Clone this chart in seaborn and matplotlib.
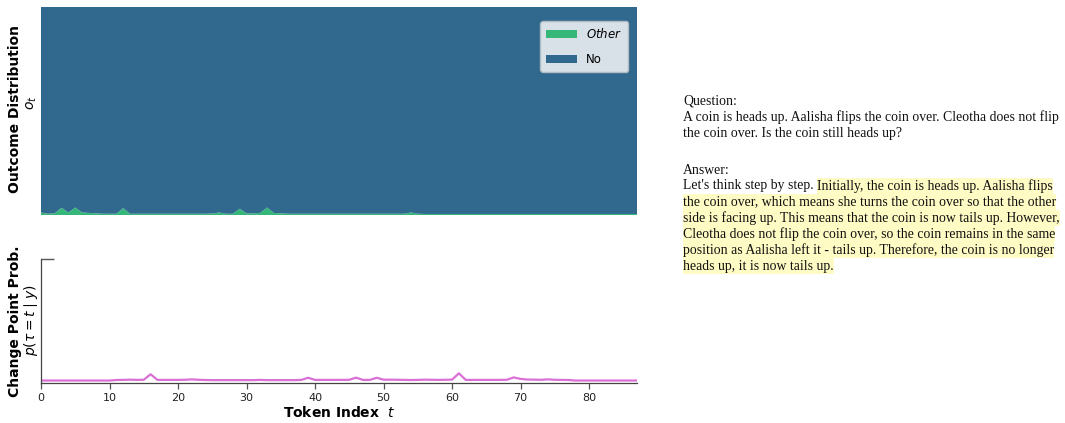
import numpy as np
import pandas as pd
import matplotlib
matplotlib.use("Agg")
import matplotlib.pyplot as plt
from matplotlib.patches import Rectangle, Patch
import seaborn as sns

sns.set_theme(style="ticks")
plt.rcParams['font.family'] = ['DejaVu Sans']

# token index t = 0..87
tokens = list(range(88))

# probability of the "Other" outcome at each token (rest is "No")
other_prob = [0.012, 0.006, 0.008, 0.035, 0.012, 0.036, 0.012, 0.010, 0.008, 0.006,
              0.006, 0.006, 0.033, 0.006, 0.006, 0.006, 0.006, 0.006, 0.006, 0.006,
              0.006, 0.006, 0.006, 0.006, 0.006, 0.007, 0.012, 0.006, 0.006, 0.030,
              0.008, 0.008, 0.010, 0.036, 0.010, 0.008, 0.006, 0.006, 0.006, 0.006,
              0.006, 0.006, 0.006, 0.006, 0.006, 0.006, 0.006, 0.006, 0.006, 0.006,
              0.006, 0.006, 0.006, 0.006, 0.012, 0.006, 0.005, 0.005, 0.005, 0.005,
              0.005, 0.005, 0.005, 0.005, 0.005, 0.005, 0.005, 0.005, 0.005, 0.005,
              0.005, 0.005, 0.005, 0.005, 0.005, 0.005, 0.005, 0.005, 0.005, 0.005,
              0.005, 0.005, 0.005, 0.005, 0.005, 0.005, 0.005, 0.005]
no_prob = [1 - p for p in other_prob]

# change point probability p(tau = t | y)
cp_prob = [0.020, 0.020, 0.020, 0.020, 0.020, 0.020, 0.020, 0.020, 0.020, 0.020,
           0.020, 0.024, 0.025, 0.027, 0.025, 0.026, 0.070, 0.025, 0.025, 0.025,
           0.025, 0.026, 0.029, 0.026, 0.024, 0.023, 0.023, 0.023, 0.023, 0.023,
           0.023, 0.023, 0.025, 0.023, 0.023, 0.023, 0.023, 0.023, 0.025, 0.042,
           0.025, 0.025, 0.025, 0.025, 0.025, 0.026, 0.043, 0.025, 0.025, 0.042,
           0.027, 0.027, 0.026, 0.025, 0.024, 0.025, 0.027, 0.026, 0.025, 0.026,
           0.027, 0.078, 0.025, 0.025, 0.025, 0.025, 0.025, 0.025, 0.026, 0.045,
           0.033, 0.028, 0.027, 0.026, 0.029, 0.026, 0.025, 0.024, 0.020, 0.020,
           0.020, 0.020, 0.020, 0.020, 0.020, 0.020, 0.020, 0.020]

outcome_labels = ["$\\it{Other}$", "No"]
outcome_colors = ["#35b779", "#31688e"]

question_lines = ["Question:",
                  "A coin is heads up. Aalisha flips the coin over. Cleotha does not flip",
                  "the coin over. Is the coin still heads up?"]
answer_plain = "Let's think step by step. "
answer_lines = ["Initially, the coin is heads up. Aalisha flips",
                "the coin over, which means she turns the coin over so that the other",
                "side is facing up. This means that the coin is now tails up. However,",
                "Cleotha does not flip the coin over, so the coin remains in the same",
                "position as Aalisha left it - tails up. Therefore, the coin is no longer",
                "heads up, it is now tails up."]

W, H = 1065, 423
fig = plt.figure(figsize=(W / 100, H / 100), dpi=100)
ax1 = fig.add_axes([41 / W, 1 - 215 / H, 596 / W, 208 / H])
ax2 = fig.add_axes([41 / W, 1 - 383 / H, 596 / W, 124 / H])

# top: stacked outcome distribution
ax1.stackplot(tokens, other_prob, no_prob, colors=outcome_colors,
              labels=outcome_labels, linewidth=0, edgecolor="none")
ax1.set_xlim(0, 87)
ax1.set_ylim(0, 1)
ax1.set_xticks([])
ax1.set_yticks([])
for s in ax1.spines.values():
    s.set_visible(False)
handles = [Patch(facecolor=c, edgecolor="none", label=l)
           for c, l in zip(outcome_colors, outcome_labels)]
ax1.legend(handles=handles, loc="upper right", bbox_to_anchor=(0.995, 0.96),
           frameon=True, fontsize=8.5, facecolor="#d9e1e8", edgecolor="#b0bac2",
           framealpha=1.0, handlelength=2.6, labelspacing=1.0, labelcolor="black",
           borderpad=0.5)

fig.text(15 / W, 1 - 109 / H, "Outcome Distribution", rotation=90, fontsize=10,
         fontweight="bold", ha="center", va="center", color="black")
fig.text(32 / W, 1 - 103 / H, "$o_t$", rotation=90, fontsize=10,
         ha="center", va="center", color="black")

# bottom: change point probability
sns.lineplot(x=tokens, y=cp_prob, ax=ax2, color="orchid", linewidth=1.6)
ax2.set_xlim(0, 87)
ax2.set_ylim(0, 1.0)
ax2.set_yticks([1.0])
ax2.set_yticklabels([])
ax2.tick_params(axis="y", direction="in", length=9, width=1.0, colors="#555555")
ax2.set_xticks(range(0, 81, 10))
ax2.tick_params(axis="x", colors="#555555", labelsize=8, labelcolor="#222222",
                length=4, width=0.9)
sns.despine(ax=ax2)
for s in ["left", "bottom"]:
    ax2.spines[s].set_color("#444444")
    ax2.spines[s].set_linewidth(0.9)
ax2.set_xlabel("$\\bf{Token\\ Index}$  $t$", fontsize=10, labelpad=1, color="black")

fig.text(15 / W, 1 - 321 / H, "Change Point Prob.", rotation=90, fontsize=10,
         fontweight="bold", ha="center", va="center", color="black")
fig.text(31 / W, 1 - 320 / H, "$p(\\tau = t \\mid y)$", rotation=90, fontsize=10,
         ha="center", va="center", color="black")

# right: question and answer text
serif = ["Liberation Serif", "DejaVu Serif"]
fs = 9.9
x0 = 683 / W
line_h = 16
y_q = 101
for i, line in enumerate(question_lines):
    fig.text(x0, 1 - (y_q + i * line_h) / H, line, family=serif, fontsize=fs,
             va="center", color="#111111")

y_a = 170
fig.text(x0, 1 - y_a / H, "Answer:", family=serif, fontsize=fs, va="center", color="#111111")

renderer = fig.canvas.get_renderer()
hl_color = "#fffbc4"
for i, line in enumerate(answer_lines):
    yc = y_a + (i + 1) * line_h
    xs = x0
    if i == 0:
        t0 = fig.text(xs, 1 - yc / H, answer_plain, family=serif, fontsize=fs,
                      va="center", color="#111111")
        bb = t0.get_window_extent(renderer)
        xs = bb.x1 / W
    t = fig.text(xs, 1 - yc / H, line, family=serif, fontsize=fs, va="center",
                 color="#111111", zorder=3)
    bb = t.get_window_extent(renderer)
    fig.patches.append(Rectangle((xs, 1 - (yc + line_h / 2) / H), (bb.x1 / W) - xs, line_h / H,
                                 transform=fig.transFigure, facecolor=hl_color,
                                 edgecolor="none", zorder=1))

fig.savefig("out.png", dpi=100)
